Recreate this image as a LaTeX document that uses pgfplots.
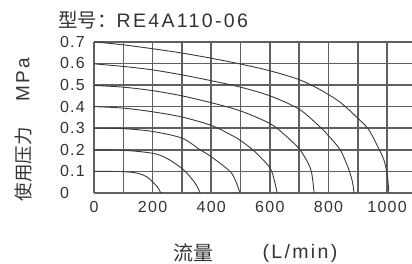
\documentclass[border=0pt]{standalone}
\usepackage{fontspec}
\setmainfont[LetterSpace=8]{Liberation Sans}
\newfontfamily\titlefont[LetterSpace=12]{Liberation Sans}
\newfontfamily\cjk{Noto Sans CJK SC}
\usepackage{pgfplots}
\pgfplotsset{compat=1.18}
\definecolor{gridc}{HTML}{606060}
\definecolor{curvec}{HTML}{3A3A3A}
\definecolor{txtc}{HTML}{333333}
\begin{document}
\begin{tikzpicture}
\useasboundingbox (0pt,0pt) rectangle (412pt,-263pt);
\begin{axis}[
  at={(94pt,-193pt)}, anchor=south west,
  scale only axis, width=318pt, height=151.2pt,
  xmin=0, xmax=1085, ymin=0, ymax=0.7,
  axis x line=bottom, axis y line=left,
  axis line style={-, gridc, line width=1.6pt},
  tick style={draw=none},
  xtick={0,100,200,300,400,500,600,700,800,900,1000},
  xticklabels={0,,200,,400,,600,,800,,1000},
  ytick={0,0.1,0.2,0.3,0.4,0.5,0.6,0.7},
  yticklabels={0,0.1,0.2,0.3,0.4,0.5,0.6,0.7},
  grid=major,
  major grid style={solid, draw=gridc, line width=1.6pt, opacity=1},
  tick label style={font=\fontsize{16}{18}\selectfont, text=txtc},
  yticklabel style={anchor=west, inner sep=0pt, xshift=-32pt},
  xticklabel style={yshift=-3pt},
  clip=false,
]
\addplot[curvec, line width=0.9pt, smooth] coordinates {(0,0.700)(100,0.686)(200,0.668)(300,0.648)(400,0.624)(500,0.597)(600,0.566)(700,0.525)(772,0.478)(840,0.420)(897,0.350)(936,0.296)(970,0.210)(990,0.150)(1000,0.090)(1004,0.040)(1006,0)};
\addplot[curvec, line width=0.9pt, smooth] coordinates {(0,0.598)(100,0.586)(200,0.570)(300,0.547)(400,0.520)(500,0.490)(600,0.450)(700,0.388)(772,0.305)(800,0.265)(840,0.200)(869,0.110)(882,0.050)(887,0)};
\addplot[curvec, line width=0.9pt, smooth] coordinates {(0,0.498)(100,0.490)(200,0.474)(300,0.450)(400,0.418)(500,0.380)(600,0.322)(650,0.270)(700,0.205)(730,0.140)(743,0.090)(751,0)};
\addplot[curvec, line width=0.9pt, smooth] coordinates {(0,0.400)(100,0.393)(200,0.376)(300,0.352)(400,0.313)(466,0.270)(500,0.243)(550,0.190)(600,0.117)(615,0.060)(625,0)};
\addplot[curvec, line width=0.9pt, smooth] coordinates {(0,0.300)(100,0.298)(200,0.285)(300,0.254)(362,0.200)(400,0.168)(464,0.100)(485,0.050)(498,0)};
\addplot[curvec, line width=0.9pt, smooth] coordinates {(0,0.200)(100,0.198)(200,0.184)(248,0.161)(300,0.114)(328,0.075)(350,0.035)(362,0)};
\addplot[curvec, line width=0.9pt, smooth] coordinates {(0,0.100)(100,0.099)(151,0.091)(180,0.075)(200,0.052)(218,0.025)(228,0)};
\end{axis}
\node[anchor=base west, text=txtc, inner sep=0pt, font=\fontsize{19.5}{21}\selectfont] at (58pt,-27pt) {{\cjk 型号：}\titlefont RE4A110-06};
\node[rotate=90, text=txtc, inner sep=0pt, font=\fontsize{19}{21}\titlefont] at (23pt,-80pt) {MPa};
\node[rotate=90, text=txtc, inner sep=0pt, font=\fontsize{18.5}{20}\selectfont] at (23pt,-164pt) {\cjk 使用压力};
\node[text=txtc, inner sep=0pt, font=\fontsize{20}{22}\selectfont] at (193pt,-253pt) {\cjk 流量};
\node[text=txtc, inner sep=0pt, font=\fontsize{19.5}{21}\titlefont] at (300pt,-253pt) {(L/min)};
\end{tikzpicture}
\end{document}
